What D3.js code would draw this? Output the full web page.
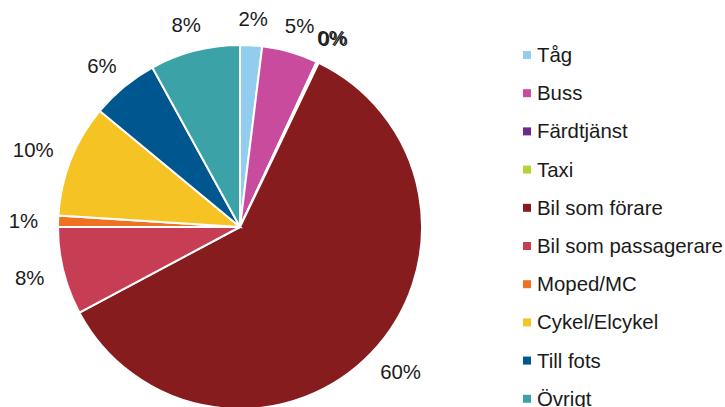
<!DOCTYPE html>
<html>
<head>
<meta charset="utf-8">
<script src="https://cdn.jsdelivr.net/npm/d3@7"></script>
<style>
	body { margin: 0; background: #ffffff; }
	svg { display: block; font-family: "Liberation Sans", Arial, sans-serif; }
</style>
</head>
<body>
<div id="vis"></div>
<script>
// data
const CATEGORIES = ["Tåg", "Buss", "Färdtjänst", "Taxi", "Bil som förare",
	"Bil som passagerare", "Moped/MC", "Cykel/Elcykel", "Till fots", "Övrigt"];
const SHARES = [1.95, 4.97, 0.1, 0.1, 60.1, 7.8, 1.0, 10.0, 6.0, 8.0];
const COLORS = ["#92cdef", "#c84b9e", "#6a2c8a", "#b5d334", "#861c1e",
	"#c73d54", "#f07122", "#f6c324", "#00568e", "#3ba3a7"];

// frame
const FRAME_WIDTH = 725;
const FRAME_HEIGHT = 407;
const CENTER = {x: 240, y: 227};
const RADIUS = 182;
const FONT = "20.4px";

const FRAME = d3.select("#vis")
	.append("svg")
		.attr("width", FRAME_WIDTH)
		.attr("height", FRAME_HEIGHT);

const data = CATEGORIES.map((c, i) => ({name: c, value: SHARES[i], color: COLORS[i]}));

const PIE = d3.pie()
	.sort(null)
	.value((d) => d.value);

const ARC = d3.arc()
	.innerRadius(0)
	.outerRadius(RADIUS);

const arcs = PIE(data);

const G = FRAME.append("g")
	.attr("transform", "translate(" + CENTER.x + "," + CENTER.y + ")");

// slices
G.selectAll("path")
	.data(arcs)
	.enter()
	.append("path")
		.attr("d", ARC)
		.attr("fill", (d) => d.data.color)
		.attr("stroke", "#ffffff")
		.attr("stroke-width", 2)
		.attr("stroke-linejoin", "miter");

// labels outside end
const LABEL_GAP = 20;
const LABEL_H = 14;
G.selectAll(".label")
	.data(arcs)
	.enter()
	.append("text")
		.attr("class", "label")
		.attr("font-size", FONT)
		.attr("fill", "#1a1a1a")
		.attr("text-anchor", "middle")
		.attr("dy", "0.36em")
		.text((d) => Math.round(d.data.value) + "%")
		.each(function(d) {
			const a = (d.startAngle + d.endAngle) / 2;
			const w = this.getComputedTextLength();
			const sx = Math.sin(a), cy = -Math.cos(a);
			const x = (RADIUS + LABEL_GAP) * sx + sx * w / 2;
			const y = (RADIUS + LABEL_GAP) * cy + cy * LABEL_H / 2;
			d3.select(this).attr("x", x).attr("y", y);
		});

// legend
const LEGEND_X = 523;
const LEGEND_Y = 55;
const LEGEND_STEP = 38.2;

const LEGEND = FRAME.append("g")
	.selectAll("g")
	.data(data)
	.enter()
	.append("g")
		.attr("transform", (d, i) => "translate(" + LEGEND_X + "," + (LEGEND_Y + i * LEGEND_STEP) + ")");

LEGEND.append("rect")
	.attr("x", 0)
	.attr("y", -4)
	.attr("width", 8)
	.attr("height", 8)
	.attr("fill", (d) => d.color);

LEGEND.append("text")
	.attr("x", 14)
	.attr("y", 7)
	.attr("font-size", FONT)
	.attr("fill", "#1a1a1a")
	.text((d) => d.name);
</script>
</body>
</html>
